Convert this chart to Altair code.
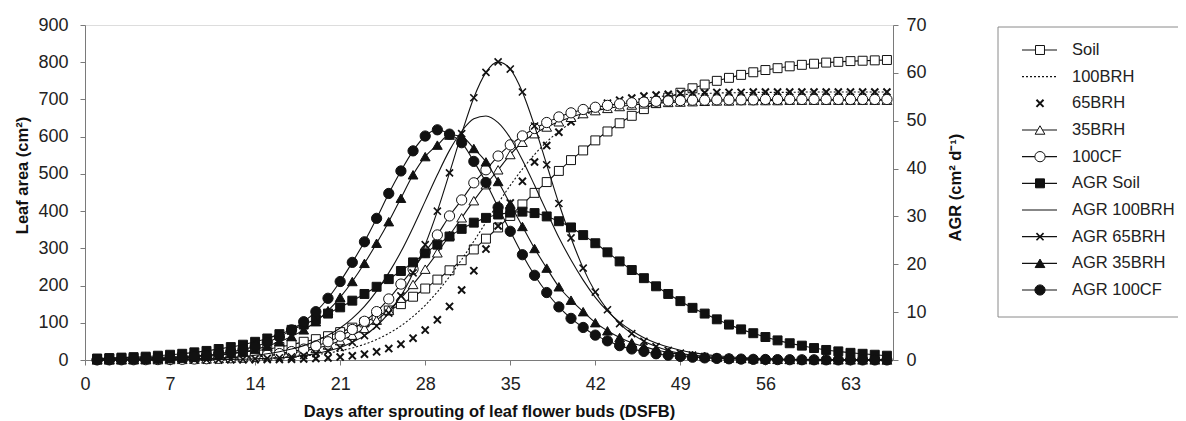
import altair as alt
import pandas as pd

# ---------------- data ----------------
days = list(range(1, 67))

leaf_soil = [3, 4, 5, 5, 6, 7, 8, 9, 11, 13,
             15, 18, 21, 25, 29, 35, 41, 49, 56, 64,
             75, 87, 101, 117, 133, 150, 170, 192, 216, 241,
             268, 297, 326, 356, 387, 418, 449, 478, 508, 537,
             563, 590, 614, 636, 656, 674, 690, 705, 718, 730,
             740, 750, 758, 766, 773, 779, 784, 789, 793, 796,
             799, 801, 803, 804, 805, 806]
leaf_100brh = [0.1, 0.1, 0.2, 0.2, 0.3, 0.4, 0.5, 0.6, 0.9, 1.1,
               1.5, 2.0, 2.7, 3.5, 4.6, 6.2, 8.1, 10.8, 14.2, 18.7,
               24.7, 32.4, 42.3, 55.1, 71.4, 91.7, 117, 147, 183, 224,
               270, 319, 370, 421, 469, 513, 552, 586, 614, 637,
               656, 670, 682, 691, 698, 703, 707, 710, 713, 714,
               716, 717, 718, 718, 719, 719, 719, 719, 720, 720,
               720, 720, 720, 720, 720, 720]
leaf_65brh = [0.0, 0.0, 0.0, 0.0, 0.0, 0.0, 0.1, 0.1, 0.1, 0.2,
              0.2, 0.4, 0.5, 0.7, 1.0, 1.4, 2.0, 2.8, 4.0, 5.6,
              7.9, 11.2, 15.7, 21.9, 30.6, 42.5, 58.7, 80.3, 108, 144,
              188, 240, 298, 360, 422, 480, 532, 576, 612, 640,
              662, 678, 690, 698, 704, 709, 712, 714, 716, 717,
              718, 719, 719, 719, 720, 720, 720, 720, 720, 720,
              720, 720, 720, 720, 720, 720]
leaf_35brh = [0.3, 0.3, 0.4, 0.6, 0.7, 1.0, 1.3, 1.7, 2.2, 2.8,
              3.7, 4.9, 6.4, 8.3, 10.9, 14.2, 18.5, 24.1, 31.2, 40.3,
              52.0, 66.6, 84.8, 107, 134, 166, 203, 244, 288, 335,
              382, 428, 471, 511, 552, 585, 608, 626, 640, 652,
              662, 670, 676, 681, 685, 688, 690, 692, 693, 694,
              695, 696, 696, 697, 697, 697, 697, 698, 698, 698,
              698, 698, 698, 698, 698, 698]
leaf_100cf = [0.3, 0.4, 0.5, 0.7, 0.9, 1.1, 1.5, 2.0, 2.6, 3.4,
              4.5, 5.9, 7.7, 10.1, 13.2, 17.3, 22.6, 29.3, 38, 49,
              64, 82, 104, 130, 164, 204, 244, 290, 336, 387,
              430, 476, 511, 548, 578, 602, 622, 638, 653, 664,
              673, 679, 684, 688, 691, 693, 695, 696, 697, 698,
              698, 699, 699, 699, 699, 700, 700, 700, 700, 700,
              700, 700, 700, 700, 700, 700]

agr_soil = [0.3, 0.4, 0.5, 0.6, 0.7, 0.9, 1.1, 1.3, 1.6, 1.9,
            2.3, 2.7, 3.2, 3.8, 4.5, 5.4, 6.3, 7.4, 8.5, 9.7,
            11.0, 12.4, 13.8, 15.3, 16.9, 18.6, 20.4, 22.3, 24.1, 25.8,
            27.4, 28.7, 29.7, 30.4, 30.8, 31.0, 30.7, 30.0, 29.0, 27.7,
            26.1, 24.4, 22.5, 20.6, 18.8, 17.1, 15.4, 13.8, 12.3, 10.9,
            9.7, 8.5, 7.4, 6.4, 5.6, 4.8, 4.1, 3.5, 3.0, 2.5,
            2.1, 1.8, 1.5, 1.3, 1.1, 0.9]
agr_100brh = [0.03, 0.03, 0.04, 0.06, 0.08, 0.10, 0.14, 0.18, 0.24, 0.32,
              0.42, 0.56, 0.74, 0.99, 1.31, 1.73, 2.28, 3.0, 3.96, 5.2,
              6.7, 8.7, 11.2, 14.4, 18.2, 22.6, 27.7, 33.2, 38.7, 43.8,
              47.8, 50.4, 51.0, 49.6, 46.4, 41.8, 36.5, 31.0, 25.6, 20.9,
              16.7, 13.1, 10.2, 7.9, 6.1, 4.66, 3.55, 2.7, 2.05, 1.54,
              1.17, 0.89, 0.67, 0.5, 0.38, 0.29, 0.22, 0.16, 0.12, 0.09,
              0.07, 0.05, 0.04, 0.03, 0.02, 0.02]
agr_65brh = [0.0, 0.0, 0.0, 0.0, 0.01, 0.02, 0.02, 0.03, 0.04, 0.06,
             0.08, 0.12, 0.17, 0.24, 0.34, 0.47, 0.67, 0.94, 1.33, 1.87,
             2.6, 3.7, 5.1, 7.1, 9.8, 13.4, 18.2, 24.1, 31.1, 39.1,
             47.3, 54.8, 60.1, 62.3, 60.8, 56.0, 48.9, 40.8, 32.7, 25.5,
             19.2, 14.2, 10.5, 7.6, 5.5, 3.9, 2.8, 2.0, 1.42, 1.0,
             0.72, 0.51, 0.36, 0.26, 0.18, 0.13, 0.09, 0.07, 0.05, 0.03,
             0.02, 0.02, 0.01, 0.01, 0.01, 0.0]
agr_35brh = [0.07, 0.09, 0.12, 0.15, 0.2, 0.26, 0.34, 0.45, 0.59, 0.77,
             1.0, 1.3, 1.7, 2.2, 2.9, 3.8, 4.9, 6.3, 8.0, 10.3,
             13.1, 16.4, 20.2, 24.4, 28.9, 33.8, 38.7, 42.5, 44.9, 47.0,
             46.7, 44.2, 41.4, 37.3, 32.6, 27.9, 23.3, 19.2, 15.3, 12.5,
             10.1, 7.8, 6.1, 4.7, 3.6, 2.8, 2.1, 1.6, 1.2, 0.95,
             0.72, 0.55, 0.42, 0.32, 0.24, 0.18, 0.14, 0.11, 0.08, 0.06,
             0.05, 0.04, 0.03, 0.02, 0.02, 0.01]
agr_100cf = [0.08, 0.1, 0.14, 0.19, 0.25, 0.32, 0.42, 0.55, 0.72, 0.95,
             1.3, 1.7, 2.2, 2.8, 3.7, 4.8, 6.3, 8.0, 10.1, 12.9,
             16.4, 20.4, 24.7, 29.6, 34.8, 39.5, 43.7, 46.8, 48.1, 47.2,
             45.4, 41.5, 37.1, 31.9, 26.9, 22.0, 17.7, 14.1, 11.1, 8.7,
             6.8, 5.2, 4.0, 3.0, 2.3, 1.8, 1.3, 1.0, 0.75, 0.58,
             0.44, 0.33, 0.25, 0.19, 0.14, 0.11, 0.08, 0.06, 0.05, 0.04,
             0.03, 0.02, 0.02, 0.01, 0.01, 0.01]

series_names = ["Soil", "100BRH", "65BRH", "35BRH", "100CF",
                "AGR Soil", "AGR 100BRH", "AGR 65BRH", "AGR 35BRH", "AGR 100CF"]
x_ticks = [0, 7, 14, 21, 28, 35, 42, 49, 56, 63]
left_ticks = [0, 100, 200, 300, 400, 500, 600, 700, 800, 900]
right_ticks = [0, 10, 20, 30, 40, 50, 60, 70]

# ---------------- styling ----------------
FONT = "Liberation Sans, Arial, Helvetica, sans-serif"
INK = "#111111"
AXIS_GREY = "#7a7a7a"
XSHAPE = "M-1,-1L1,1M-1,1L1,-1"

styles = {
    "Soil": dict(line="solid", shape="square", fill="white", size=80, sw=1),
    "100BRH": dict(line="dotted", shape=None),
    "65BRH": dict(line=None, shape=XSHAPE, fill=None, size=50, sw=2),
    "35BRH": dict(line="solid", shape="triangle-up", fill="white", size=95, sw=1),
    "100CF": dict(line="solid", shape="circle", fill="white", size=105, sw=1),
    "AGR Soil": dict(line="solid", shape="square", fill=INK, size=80, sw=1),
    "AGR 100BRH": dict(line="solid", shape=None),
    "AGR 65BRH": dict(line="solid", shape=XSHAPE, fill=None, size=50, sw=1.6),
    "AGR 35BRH": dict(line="solid", shape="triangle-up", fill=INK, size=95, sw=1),
    "AGR 100CF": dict(line="solid", shape="circle", fill=INK, size=105, sw=1),
}
values = {
    "Soil": leaf_soil, "100BRH": leaf_100brh, "65BRH": leaf_65brh,
    "35BRH": leaf_35brh, "100CF": leaf_100cf,
    "AGR Soil": agr_soil, "AGR 100BRH": agr_100brh, "AGR 65BRH": agr_65brh,
    "AGR 35BRH": agr_35brh, "AGR 100CF": agr_100cf,
}

common_axis = dict(grid=False, domainColor=AXIS_GREY, tickColor=AXIS_GREY, tickSize=5,
                   labelFont=FONT, labelFontSize=18, labelColor="#222222",
                   titleFont=FONT, titleFontSize=16.5, titleFontWeight="bold", titleColor=INK)

x_enc = alt.X("day:Q", scale=alt.Scale(domain=[0, 66.5], nice=False, zero=False),
              axis=alt.Axis(values=x_ticks, title="Days after sprouting of leaf flower buds (DSFB)",
                            labelPadding=10, labelFlush=False, titleX=404, titleY=56,
                            titleAnchor="middle", titleAlign="center", titleBaseline="alphabetic",
                            **common_axis))
y_left = alt.Y("value:Q", scale=alt.Scale(domain=[0, 900], nice=False, zero=True),
               axis=alt.Axis(orient="left", values=left_ticks, title="Leaf area (cm²)",
                             labelPadding=12, titleAngle=270, titleX=-63, titleY=150,
                             titleAlign="center", titleBaseline="middle", **common_axis))
y_right = alt.Y("value:Q", scale=alt.Scale(domain=[0, 70], nice=False, zero=True),
                axis=alt.Axis(orient="right", values=right_ticks, title="AGR (cm² d⁻¹)",
                              labelPadding=8, titleAngle=270, titleX=62, titleY=162,
                              titleAlign="center", titleBaseline="middle", **common_axis))


def point_kwargs(st):
    kw = dict(shape=st["shape"], size=st["size"], stroke=INK, strokeWidth=st["sw"], opacity=1)
    if st["fill"] is None:
        kw.update(filled=False)
    else:
        kw.update(filled=True, fill=st["fill"])
    return kw


def series_layers(name, y_enc):
    st = styles[name]
    df = pd.DataFrame({"day": days, "value": values[name]})
    base = alt.Chart(df)
    out = []
    if st["line"] is not None:
        lk = dict(color=INK, strokeWidth=1.1, interpolate="monotone")
        if st["line"] == "dotted":
            lk["strokeDash"] = [2, 2]
        out.append(base.mark_line(**lk).encode(x=x_enc, y=y_enc))
    if st["shape"] is not None:
        out.append(base.mark_point(**point_kwargs(st)).encode(x=x_enc, y=y_enc))
    return out


left_layers = []
for n in series_names[:5]:
    left_layers += series_layers(n, y_left)
right_layers = []
for n in series_names[5:]:
    right_layers += series_layers(n, y_right)

# ---------------- legend (drawn to the right of the plot) ----------------
leg_y = alt.Y("name:N", scale=alt.Scale(type="point", domain=series_names, range=[25, 265], padding=0),
              axis=None)
legend_layers = [
    alt.Chart(pd.DataFrame({"name": ["box"]})).mark_rect(
        fill="white", fillOpacity=0, stroke="#8a8a8a", strokeWidth=1
    ).encode(x=alt.value(913), x2=alt.value(1115), y=alt.value(2), y2=alt.value(292))
]
for n in series_names:
    st = styles[n]
    d1 = alt.Chart(pd.DataFrame({"name": [n]}))
    if st["line"] is not None:
        rk = dict(color=INK, strokeWidth=1.1)
        if st["line"] == "dotted":
            rk["strokeDash"] = [2, 2]
        legend_layers.append(d1.mark_rule(**rk).encode(x=alt.value(937), x2=alt.value(972), y=leg_y))
    if st["shape"] is not None:
        legend_layers.append(d1.mark_point(**point_kwargs(st)).encode(x=alt.value(955), y=leg_y))
legend_layers.append(
    alt.Chart(pd.DataFrame({"name": series_names})).mark_text(
        align="left", baseline="middle", font=FONT, fontSize=16.5, color="#222222"
    ).encode(x=alt.value(987), y=leg_y, text="name:N")
)

chart = alt.layer(
    alt.layer(*left_layers),
    alt.layer(*right_layers),
    alt.layer(*legend_layers),
).resolve_scale(y="independent").properties(
    width=808, height=335,
    autosize=alt.AutoSizeParams(type="none"),
    padding={"left": 77, "top": 17, "right": 285, "bottom": 61},
).configure_view(stroke=None).configure(background="white")

chart.save("out.html", embed_options={"renderer": "svg", "actions": False})
